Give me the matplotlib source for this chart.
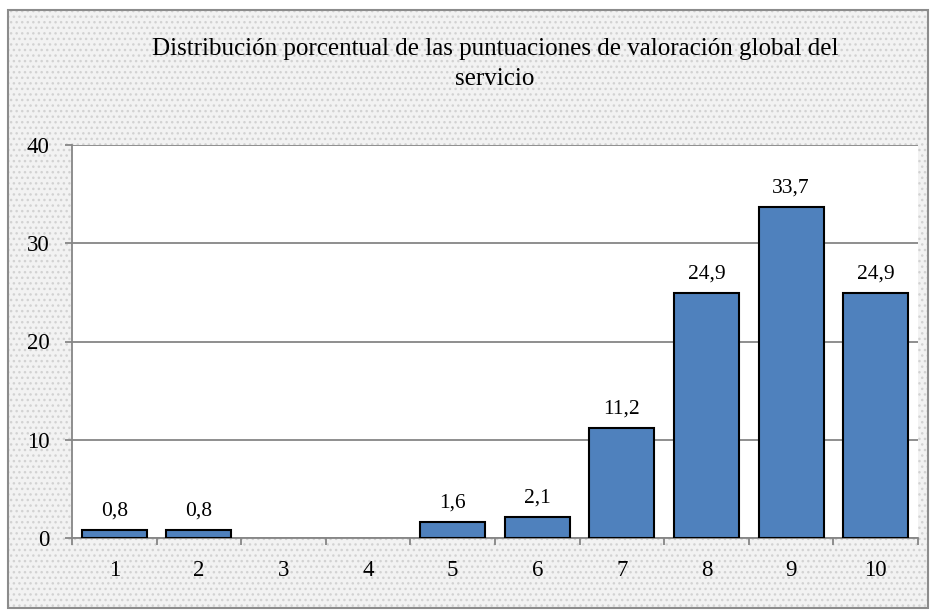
import matplotlib.pyplot as plt
from matplotlib.patches import Rectangle

categories = ['1', '2', '3', '4', '5', '6', '7', '8', '9', '10']
values = [0.8, 0.8, 0, 0, 1.6, 2.1, 11.2, 24.9, 33.7, 24.9]
labels = ['0,8', '0,8', '', '', '1,6', '2,1', '11,2', '24,9', '33,7', '24,9']
title = 'Distribución porcentual de las puntuaciones de valoración global del\nservicio'

plt.rcParams['font.family'] = ['Liberation Serif', 'DejaVu Serif']
plt.rcParams['hatch.color'] = '#d2d2d2'

fig = plt.figure(figsize=(9.36, 6.15), dpi=100)
fig.patch.set_facecolor('white')

# dotted chart-area background with grey border
bg = Rectangle((8 / 936, 7 / 615), 920 / 936, 598 / 615, transform=fig.transFigure,
               facecolor='#f2f2f2', hatch='...', lw=0, zorder=-2)
fig.patches.append(bg)
border = Rectangle((8 / 936, 7 / 615), 920 / 936, 598 / 615, transform=fig.transFigure,
                   facecolor='none', edgecolor='#8c8c8c', lw=1.5, zorder=-1)
fig.patches.append(border)

ax = fig.add_axes([72 / 936, 1 - 538 / 615, 846 / 936, 393 / 615])
ax.set_zorder(2)
ax.set_facecolor('white')

x = list(range(len(categories)))
widths = [1.5 if v > 0 else 0 for v in values]
ax.bar(x, values, width=0.77, color='#4f81bd', edgecolor='black', lw=widths, zorder=3)
for xi, v, lab in zip(x, values, labels):
    if lab:
        ax.text(xi, v + 1.0, lab, ha='center', va='bottom', fontsize=15.5)

ax.set_xlim(-0.5, len(categories) - 0.5)
ax.set_ylim(0, 40)
ax.set_yticks([0, 10, 20, 30, 40])
ax.yaxis.grid(True, color='#868686', lw=1.3, zorder=0)
ax.set_axisbelow(True)
ax.set_xticks([i + 0.5 for i in range(-1, len(categories))])
ax.set_xticklabels([])
ax.set_xticks(x, minor=True)
ax.set_xticklabels(categories, minor=True, fontsize=16.5)
ax.tick_params(axis='x', which='minor', length=0, pad=16)
ax.tick_params(axis='x', which='major', length=5, color='#868686', width=1.3, direction='out')
ax.tick_params(axis='y', length=5, color='#868686', width=1.3, labelsize=16.5, pad=11)
for s in ['top', 'right']:
    ax.spines[s].set_visible(False)
for s in ['left', 'bottom']:
    ax.spines[s].set_color('#868686')
    ax.spines[s].set_linewidth(1.3)

fig.text(495 / 936, 1 - 64 / 615, title, ha='center', va='center', fontsize=18,
         linespacing=1.45)

fig.savefig('out.png', dpi=100)
